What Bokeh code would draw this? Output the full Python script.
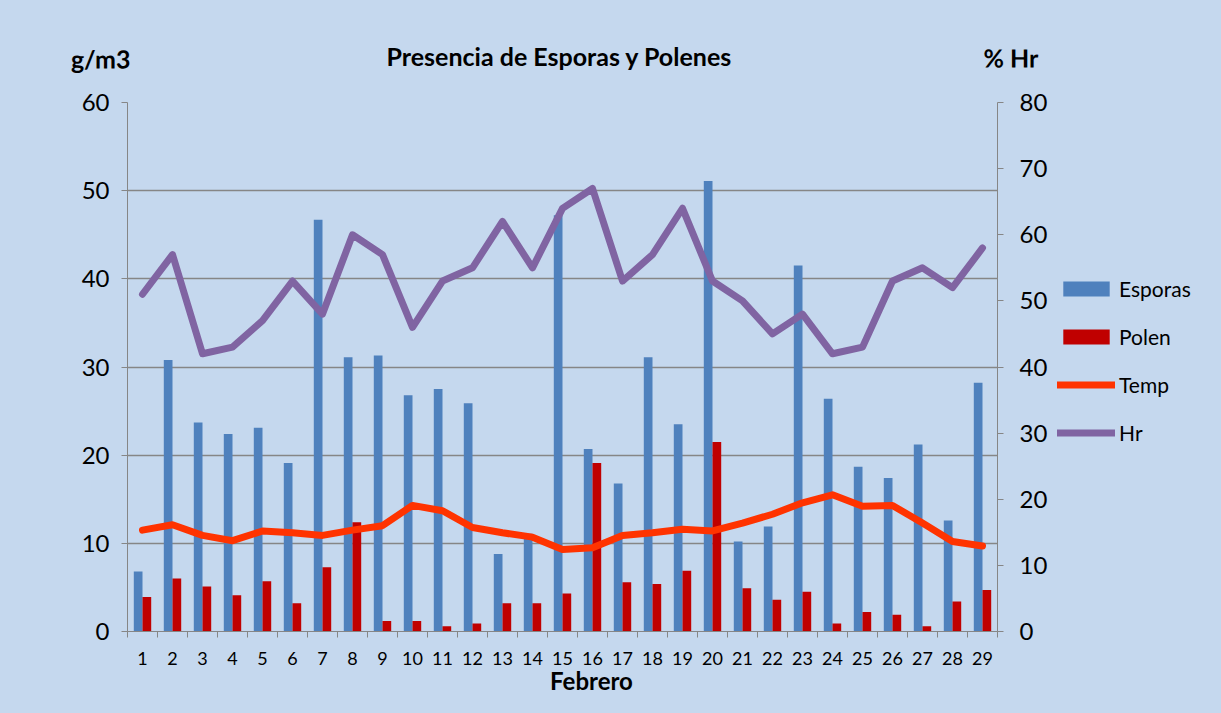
from bokeh.plotting import figure
from bokeh.layouts import row
from bokeh.models import (Range1d, LinearAxis, FixedTicker, Legend,
                          LegendItem, ColumnDataSource)
from bokeh.transform import dodge
from bokeh.embed import file_html
from bokeh.resources import INLINE

# ---------------- data ----------------
days = list(range(1, 30))
day_labels = [str(d) for d in days]
esporas = [6.8, 30.8, 23.7, 22.4, 23.1, 19.1, 46.7, 31.1, 31.3, 26.8,
           27.5, 25.9, 8.8, 11.1, 47.2, 20.7, 16.8, 31.1, 23.5, 51.1,
           10.2, 11.9, 41.5, 26.4, 18.7, 17.4, 21.2, 12.6, 28.2]
polen = [3.9, 6.0, 5.1, 4.1, 5.7, 3.2, 7.3, 12.4, 1.2, 1.2,
         0.6, 0.9, 3.2, 3.2, 4.3, 19.1, 5.6, 5.4, 6.9, 21.5,
         4.9, 3.6, 4.5, 0.9, 2.2, 1.9, 0.6, 3.4, 4.7]
temp = [11.5, 12.1, 10.9, 10.3, 11.4, 11.2, 10.9, 11.5, 12.0, 14.3,
        13.7, 11.8, 11.2, 10.7, 9.3, 9.5, 10.9, 11.2, 11.6, 11.4,
        12.3, 13.3, 14.6, 15.5, 14.2, 14.3, 12.3, 10.2, 9.7]
hr = [51, 57, 42, 43, 47, 53, 48, 60, 57, 46,
      53, 55, 62, 55, 64, 67, 53, 57, 64, 53,
      50, 45, 48, 42, 43, 53, 55, 52, 58]
left_ticks = [0, 10, 20, 30, 40, 50, 60]
right_ticks = [0, 10, 20, 30, 40, 50, 60, 70, 80]
series_names = ["Esporas", "Polen", "Temp", "Hr"]

title_text = "Presencia de Esporas y Polenes"
left_title = "g/m3"
right_title = "% Hr"
x_title = "Febrero"

# ---------------- styles / layout ----------------
BG = "#C5D8EE"
GRID = "#868686"
C_ESP = "#4F81BD"
C_POL = "#C00000"
C_TEMP = "#FF3300"
C_HR = "#8064A2"
FONT = "Lato"
FRAME_W, FRAME_H = 870, 529
BORDER_L, BORDER_R, BORDER_T, BORDER_B = 127, 60, 102, 82
TOTAL_W, TOTAL_H = 1221, 713
# text anchors, in px from the frame's left edge
POS_TITLE = 432       # centre of the title
POS_LEFT_T = 3        # right edge of "g/m3"
POS_RIGHT_T = 856     # left edge of "% Hr"
POS_XT = 464          # centre of "Febrero"

src = ColumnDataSource(dict(day=days, esporas=esporas, polen=polen,
                            temp=temp, hr=hr))

p = figure(frame_width=FRAME_W, frame_height=FRAME_H,
           output_backend="svg", toolbar_location=None,
           x_range=Range1d(0.5, 29.5), y_range=Range1d(0, 60),
           min_border_left=BORDER_L, min_border_right=BORDER_R,
           min_border_top=BORDER_T, min_border_bottom=BORDER_B)
p.background_fill_color = BG
p.border_fill_color = BG
p.outline_line_color = None
p.extra_y_ranges = {"hr": Range1d(0, 80)}
p.extra_x_ranges = {"txt": Range1d(0, FRAME_W)}

# bars
bw = 0.29
p.vbar(x=dodge("day", -bw / 2, range=p.x_range), top="esporas", width=bw,
       bottom=0, source=src, fill_color=C_ESP, line_color=None)
p.vbar(x=dodge("day", bw / 2, range=p.x_range), top="polen", width=bw,
       bottom=0, source=src, fill_color=C_POL, line_color=None)
# lines
p.line("day", "temp", source=src, line_color=C_TEMP, line_width=7,
       line_cap="round", line_join="round")
p.line("day", "hr", source=src, line_color=C_HR, line_width=7,
       line_cap="round", line_join="round", y_range_name="hr")

# main x axis
xa = p.xaxis[0]
xa.ticker = FixedTicker(ticks=days, minor_ticks=[d + 0.5 for d in range(0, 30)])
xa.major_label_overrides = {d: s for d, s in zip(days, day_labels)}
xa.major_tick_out = 0
xa.major_tick_in = 0
xa.minor_tick_out = 6
xa.minor_tick_in = 0
xa.minor_tick_line_color = GRID
xa.axis_line_color = GRID
xa.major_label_text_font = FONT
xa.major_label_text_font_size = "18px"
xa.major_label_text_color = "black"
xa.major_label_standoff = 14

# left axis
ya = p.yaxis[0]
ya.ticker = FixedTicker(ticks=left_ticks, minor_ticks=[])
ya.major_tick_out = 6
ya.major_tick_in = 0
ya.major_tick_line_color = GRID
ya.axis_line_color = GRID
ya.major_label_text_font = FONT
ya.major_label_text_font_size = "24px"
ya.major_label_text_color = "black"
ya.major_label_standoff = 12

# right axis
ra = LinearAxis(y_range_name="hr", ticker=FixedTicker(ticks=right_ticks, minor_ticks=[]))
ra.major_tick_out = 6
ra.major_tick_in = 0
ra.major_tick_line_color = GRID
ra.axis_line_color = GRID
ra.major_label_text_font = FONT
ra.major_label_text_font_size = "24px"
ra.major_label_text_color = "black"
ra.major_label_standoff = 16
p.add_layout(ra, "right")

p.xgrid.visible = False
p.ygrid.ticker = FixedTicker(ticks=left_ticks, minor_ticks=[])
p.ygrid.grid_line_color = GRID
p.ygrid.grid_line_width = 1.5


def text_axis(ticks, labels, size, standoff, orientation="horizontal"):
    ax = LinearAxis(x_range_name="txt",
                    ticker=FixedTicker(ticks=ticks, minor_ticks=[]))
    ax.major_label_overrides = {t: s for t, s in zip(ticks, labels)}
    ax.axis_line_color = None
    ax.major_tick_line_color = None
    ax.minor_tick_line_color = None
    ax.major_tick_out = 0
    ax.major_tick_in = 0
    ax.major_label_text_font = FONT
    ax.major_label_text_font_size = size
    ax.major_label_text_font_style = "bold"
    ax.major_label_text_color = "black"
    ax.major_label_orientation = orientation
    ax.major_label_standoff = standoff
    return ax


# title row (stacked rows, pulled back onto one line)
p.add_layout(text_axis([POS_TITLE], [title_text], "25px", 32), "above")
p.add_layout(text_axis([POS_LEFT_T], [left_title], "25px", -21, -0.0005), "above")
p.add_layout(text_axis([POS_RIGHT_T], [right_title], "25px", -32, 0.0005), "above")
# x-axis title
p.add_layout(text_axis([POS_XT], [x_title], "24px", -2), "below")

# ---------------- legend panel ----------------
LEG_W = TOTAL_W - (BORDER_L + FRAME_W + BORDER_R)
q = figure(width=LEG_W, height=TOTAL_H, output_backend="svg", toolbar_location=None,
           x_range=Range1d(-100, -99), y_range=Range1d(-100, -99),
           x_axis_type=None, y_axis_type=None, min_border=0)
q.background_fill_color = BG
q.border_fill_color = BG
q.outline_line_color = None
q.xgrid.visible = False
q.ygrid.visible = False
# same series, outside this panel's view: they only supply the legend swatches
g_esp = q.vbar(x="day", top="esporas", width=bw, source=src,
               fill_color=C_ESP, line_color=None)
g_pol = q.vbar(x="day", top="polen", width=bw, source=src,
               fill_color=C_POL, line_color=None)
g_temp = q.line("day", "temp", source=src, line_color=C_TEMP, line_width=7,
                line_cap="round")
g_hr = q.line("day", "hr", source=src, line_color=C_HR, line_width=7,
              line_cap="round")

legend = Legend(items=[LegendItem(label=n, renderers=[r]) for n, r in
                       zip(series_names, [g_esp, g_pol, g_temp, g_hr])],
                location=(0, 186), orientation="vertical",
                glyph_width=58, glyph_height=19, label_height=19,
                spacing=23, padding=0, margin=0, label_standoff=4,
                label_text_font=FONT, label_text_font_size="21px",
                label_text_color="black",
                border_line_color=None, background_fill_alpha=0)
q.add_layout(legend, "center")

layout = row(p, q, spacing=0, styles={"background-color": BG})
open("out.html", "w").write(file_html(layout, INLINE))
